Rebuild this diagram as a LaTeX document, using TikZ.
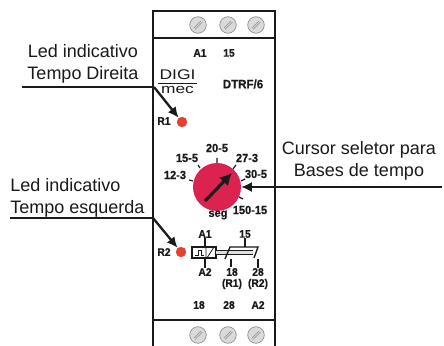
\documentclass[tikz,border=0pt]{standalone}
\usepackage{fontspec}
\usepackage{graphicx}
\setmainfont[BoldFeatures={FakeBold=0.6,FakeStretch=0.94}]{Liberation Sans}
\usetikzlibrary{arrows.meta,calc}
\definecolor{ledred}{HTML}{E8402F}
\definecolor{dialred}{HTML}{DC2350}
\definecolor{screwgrey}{HTML}{DADADA}
\definecolor{ink}{HTML}{1A1A1A}
\tikzset{
  x=0.75pt,y=-0.75pt,
  callout/.style={font=\fontsize{13.5}{15}\selectfont,text=ink,inner sep=0pt,align=center},
  lab/.style={font=\fontsize{8.2}{9}\selectfont\bfseries,text=ink,inner sep=0pt,anchor=center},
  scale lab/.style={font=\fontsize{8.8}{9}\selectfont\bfseries,text=ink,inner sep=0pt,anchor=center},
  led/.style={circle,fill=ledred,draw=none,minimum size=7.8pt,inner sep=0pt},
  screw/.style={circle,fill=screwgrey,draw=gray!90,line width=0.5pt,minimum size=12.4pt,inner sep=0pt},
  frame/.style={draw=ink,line width=1.2pt},
  leader/.style={draw=ink,line width=1.2pt},
  pointer/.style={draw=ink,line width=1.7pt,-{Latex[length=8pt,width=7.5pt]}},
  thin part/.style={draw=ink,line width=0.8pt},
}
\newcommand{\screwat}[2]{%
  \node[screw] (#1) at #2 {};
  \draw[gray!90,line width=0.5pt] ($(#1)+(-4,3)$) -- ($(#1)+(3,-4)$) ($(#1)+(-3,4.5)$) -- ($(#1)+(4.5,-3)$);
}
\begin{document}
\begin{tikzpicture}
\useasboundingbox (0,0) rectangle (444,346);
\fill[white] (0,0) rectangle (444,346);
% housing
\draw[frame] (153,346) -- (153,11) -- (275,11) -- (275,346);
\draw[frame] (153,38) -- (275,38);
\draw[frame] (153,320) -- (275,320);
% screws
\screwat{s1}{(198,25)}
\screwat{s2}{(228,25)}
\screwat{s3}{(256,25)}
\screwat{s4}{(198,335)}
\screwat{s5}{(228,335)}
\screwat{s6}{(256,335)}
% top labels
\node[lab] (ta1) at (200,53) {A1};
\node[lab] (t15) at (229,53) {15};
\node[font=\fontsize{9.2}{9}\selectfont\bfseries,text=ink,inner sep=0pt] (model) at (243,84) {DTRF/6};
\node[inner sep=0pt,text=ink] (digi) at (177.5,75) {\scalebox{1.25}[1]{\fontsize{10.5}{11}\selectfont DIGI}};
\node[inner sep=0pt,text=ink] (mec) at (177.5,90) {\scalebox{1.3}[1]{\fontsize{10}{11}\selectfont mec}};
\draw[thin part] (158,83.5) -- (197,83.5);
% LEDs
\node[led] (led1) at (182,122) {};
\node[led] (led2) at (181,252) {};
\node[lab] (r1) at (164,121) {R1};
\node[lab] (r2) at (164,252) {R2};
% callouts
\node[callout] (c1) at (83,64) {Led indicativo\\[1.5pt]Tempo Direita};
\node[callout,anchor=west,align=left] (c2) at (10,197.5) {Led indicativo\\[1.5pt]Tempo esquerda};
\node[callout] (c3) at (359,161) {Cursor seletor para\\[1.5pt]Bases de tempo};
\coordinate (l1a) at (22,87);
\coordinate (l1b) at (154,87);
\coordinate (l2a) at (10,218);
\coordinate (l2b) at (153,218);
\coordinate (l3a) at (442,187);
\draw[leader] (l1a) -- (l1b);
\draw[leader] (l2a) -- (l2b);
\draw[pointer] (l1b) -- (led1);
\draw[pointer] (l2b) -- (led2);
% dial
\node[circle,fill=dialred,minimum size=36pt,inner sep=0pt] (dial) at (217,187) {};
\draw[thin part,line width=0.9pt]
  (217,163) -- (217,158)
  (200,168) -- (198,165)
  (193,181) -- (189,180)
  (233,169) -- (236,165)
  (241,181) -- (245,179)
  (239,197) -- (243,199);
\coordinate (ptail) at (205,201);
\coordinate (ptip) at (232,173);
\draw[draw=ink,line width=2.4pt,-{Latex[length=9pt,width=9.5pt]}] (ptail) -- (ptip);
\draw[leader,-{Latex[length=8pt,width=7.5pt]}] (l3a) -- (dial.east);
\node[scale lab] at (217,148) {20-5};
\node[scale lab] at (187,158) {15-5};
\node[scale lab] at (175,175) {12-3};
\node[scale lab] at (247,158) {27-3};
\node[scale lab] at (256,174) {30-5};
\node[scale lab] at (250,210) {150-15};
\node[scale lab] at (218,215) {seg};
% relay symbol
\node[draw=ink,line width=0.9pt,fill=white,minimum width=18pt,minimum height=8.2pt,inner sep=0pt] (relay) at (204,252.5) {};
\draw[thin part,line width=0.6pt] (206,247) -- (206,258) (207,258) -- (214,247);
\draw[thin part,line width=0.6pt] (195,255) -- (198,255) -- (198,250) -- (201,250) -- (201,255) -- (204,255);
\fill[gray!25] (216,250.5) rectangle (253,254);
\draw[thin part,line width=0.6pt] (216,250.5) -- (253,250.5) (216,254) -- (253,254);
\node[lab] (a1) at (205,234) {A1};
\node[lab] (a2) at (205,272) {A2};
\node[lab] (n15) at (245,234) {15};
\node[lab] (n18) at (232,272) {18};
\node[lab] (n28) at (258,272) {28};
\node[lab] (nr1) at (232,284) {(R1)};
\node[lab] (nr2) at (258,284) {(R2)};
\node[lab] (b18) at (199,305) {18};
\node[lab] (b28) at (229,305) {28};
\node[lab] (ba2) at (258,305) {A2};
\draw[thin part] (a1.south) -- (relay.north -| a1.south);
\draw[thin part] (relay.south -| a2.north) -- (a2.north);
\draw[thin part] (n15.south) -- (245,247);
\draw[thin part,line width=1pt] (225,259) -- (230,247) -- (258,247) -- (254,258);
\draw[thin part] (231,259) -- (231,267);
\draw[thin part] (258,259) -- (n28.north);
\end{tikzpicture}
\end{document}
